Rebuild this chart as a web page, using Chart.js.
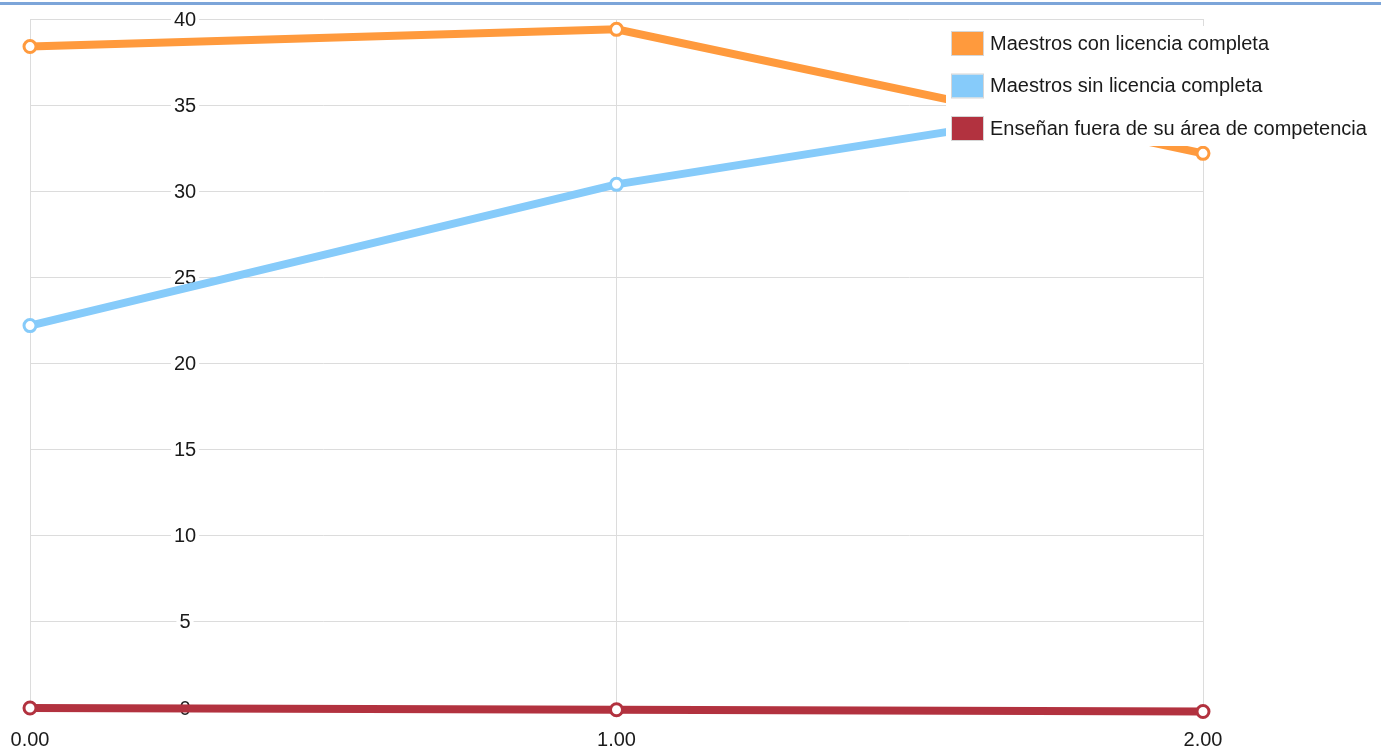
<!DOCTYPE html>
<html>
<head>
<meta charset="utf-8">
<script src="https://cdn.jsdelivr.net/npm/chart.js@4/dist/chart.umd.min.js"></script>
<style>
  html, body { margin: 0; padding: 0; background: #fff; }
  #wrap { position: relative; width: 1381px; height: 752px; }
  #topline { position: absolute; left: 0; top: 2px; width: 1381px; height: 3px; background: #5b8fd0; opacity: 0.8; }
  canvas { display: block; }
</style>
</head>
<body>
<div id="wrap">
  <canvas id="chart" width="1381" height="752"></canvas>
  <div id="topline"></div>
</div>
<script>
const xValues = [0, 1, 2]
const seriesNames = [
  'Maestros con licencia completa',
  'Maestros sin licencia completa',
  'Enseñan fuera de su área de competencia'
]
const conLicencia = [38.4, 39.4, 32.2]
const sinLicencia = [22.2, 30.4, 35.8]
const fueraArea = [0, -0.1, -0.2]
const yTicks = [0, 5, 10, 15, 20, 25, 30, 35, 40]

const colors = ['#ff9a3d', '#86cbfa', '#b2323f']
const seriesData = [conLicencia, sinLicencia, fueraArea]
const fontFamily = '"Liberation Sans", Arial, sans-serif'

const toPoints = vals => vals.map((v, i) => ({ x: xValues[i], y: v }))

// y labels sit inside the plot, around x=185, on a white patch
const innerYLabels = {
  id: 'innerYLabels',
  beforeDatasetsDraw(chart) {
    const ctx = chart.ctx
    const y = chart.scales.y
    ctx.save()
    ctx.font = '20px ' + fontFamily
    ctx.textAlign = 'center'
    ctx.textBaseline = 'middle'
    yTicks.forEach(v => {
      const py = y.getPixelForValue(v)
      const label = String(v)
      const w = ctx.measureText(label).width
      ctx.fillStyle = '#fff'
      ctx.fillRect(185 - w / 2 - 3, py - 9, w + 6, 18)
      ctx.fillStyle = '#1a1a1a'
      ctx.fillText(label, 185, py + 1)
    })
    ctx.restore()
  }
}

// legend drawn over the plot, with a white box behind it
const overlayLegend = {
  id: 'overlayLegend',
  afterDatasetsDraw(chart) {
    const ctx = chart.ctx
    const top = 26
    const rowH = 42.5
    ctx.save()
    ctx.fillStyle = '#fff'
    ctx.fillRect(946, top, 425, 120)
    ctx.font = '20px ' + fontFamily
    ctx.textBaseline = 'middle'
    chart.data.datasets.forEach((ds, i) => {
      const cy = top + 17 + i * rowH
      ctx.fillStyle = ds.borderColor
      ctx.fillRect(952, cy - 11, 31, 23)
      ctx.strokeStyle = '#d6d6d6'
      ctx.lineWidth = 1
      ctx.strokeRect(951.5, cy - 11.5, 32, 24)
      ctx.fillStyle = '#1a1a1a'
      ctx.fillText(ds.label, 990, cy + 1)
    })
    ctx.restore()
  }
}

new Chart(document.getElementById('chart'), {
  type: 'line',
  data: {
    datasets: seriesData.map((vals, i) => ({
      label: seriesNames[i],
      data: toPoints(vals),
      borderColor: colors[i],
      backgroundColor: '#fff',
      borderWidth: 8,
      pointRadius: 6,
      pointBorderWidth: 3,
      pointBackgroundColor: '#fff',
      pointBorderColor: colors[i],
      tension: 0,
      clip: false
    }))
  },
  options: {
    responsive: false,
    animation: false,
    layout: { padding: { left: 30, right: 178, top: 19, bottom: 4 } },
    plugins: {
      legend: { display: false },
      tooltip: { enabled: false }
    },
    scales: {
      x: {
        type: 'linear',
        min: 0,
        max: 2,
        afterBuildTicks: axis => { axis.ticks = xValues.map(v => ({ value: v })) },
        afterFit: axis => {
          axis.height = 40
          axis.paddingLeft = 0
          axis.paddingRight = 0
        },
        grid: { color: '#dcdcdc', drawTicks: false },
        border: { display: false },
        ticks: {
          padding: 20,
          color: '#1a1a1a',
          maxRotation: 0,
          font: { family: fontFamily, size: 20 },
          callback: v => v.toFixed(2)
        }
      },
      y: {
        min: 0,
        max: 40,
        afterBuildTicks: axis => { axis.ticks = yTicks.map(v => ({ value: v })) },
        grid: { color: '#dcdcdc', drawTicks: false },
        border: { display: false },
        ticks: { display: false }
      }
    }
  },
  plugins: [innerYLabels, overlayLegend]
})
</script>
</body>
</html>
